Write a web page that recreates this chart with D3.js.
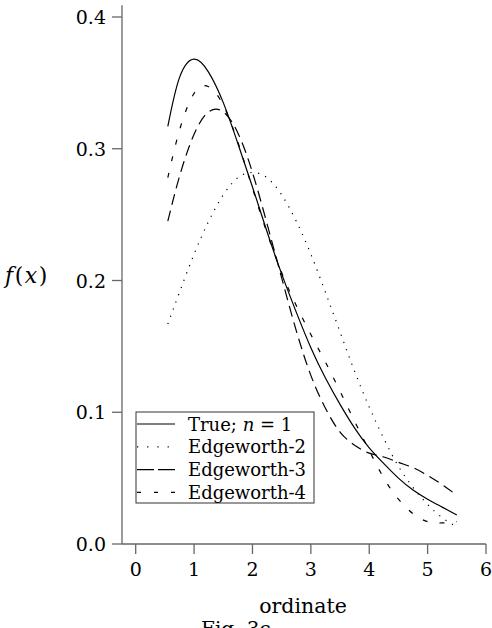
<!DOCTYPE html>
<html>
<head>
<meta charset="utf-8">
<script src="https://cdn.jsdelivr.net/npm/d3@7"></script>
<style>
  body { margin: 0; background: #fff; }
</style>
</head>
<body>
<svg id="main-svg"></svg>
<script>
// --- data ---
const xs = [0.55, 0.75, 1.0, 1.25, 1.5, 1.75, 2.0, 2.25, 2.5, 2.75, 3.0,
            3.25, 3.5, 3.75, 4.0, 4.25, 4.5, 4.75, 5.0, 5.25, 5.5];
const trueN1 = [0.317, 0.354, 0.368, 0.358, 0.335, 0.304, 0.271, 0.237, 0.205, 0.176, 0.149,
                0.126, 0.106, 0.088, 0.073, 0.061, 0.050, 0.041, 0.034, 0.028, 0.022];
const edge2 = [0.167, 0.191, 0.220, 0.245, 0.265, 0.278, 0.282, 0.278, 0.265, 0.245, 0.220,
               0.191, 0.161, 0.131, 0.104, 0.080, 0.059, 0.043, 0.030, 0.020, 0.013];
const edge3 = [0.245, 0.279, 0.311, 0.328, 0.328, 0.312, 0.282, 0.243, 0.202, 0.162, 0.128,
               0.103, 0.085, 0.075, 0.069, 0.066, 0.062, 0.058, 0.052, 0.045, 0.037];
const edge4 = [0.278, 0.314, 0.342, 0.347, 0.333, 0.305, 0.270, 0.236, 0.206, 0.181, 0.159,
               0.138, 0.116, 0.093, 0.071, 0.050, 0.034, 0.023, 0.017, 0.016, 0.017];
const xTicks = [0, 1, 2, 3, 4, 5, 6];
const yTicks = [0.0, 0.1, 0.2, 0.3, 0.4];
const legendLabels = ["True; n = 1", "Edgeworth-2", "Edgeworth-3", "Edgeworth-4"];

// --- setup ---
const width = 492, height = 628;
const serif = "'DejaVu Serif', 'Liberation Serif', serif";
const svg = d3.select("#main-svg").attr("width", width).attr("height", height)
  .attr("font-family", serif);

const x = d3.scaleLinear().domain([0, 6]).range([135.7, 486]);
const y = d3.scaleLinear().domain([0, 0.4]).range([544, 17]);
const axisColor = "#666";
const fontSize = 19;

// axes lines
svg.append("line").attr("x1", 122).attr("x2", 122)
   .attr("y1", y(0.409)).attr("y2", y(0))
   .attr("stroke", axisColor).attr("stroke-width", 1.3);
svg.append("line").attr("x1", 122).attr("x2", x(6))
   .attr("y1", y(0)).attr("y2", y(0))
   .attr("stroke", axisColor).attr("stroke-width", 1.3);

// y ticks
const yg = svg.append("g");
yg.selectAll("line").data(yTicks).enter().append("line")
  .attr("x1", 112).attr("x2", 122)
  .attr("y1", d => y(d)).attr("y2", d => y(d))
  .attr("stroke", axisColor).attr("stroke-width", 1.3);
yg.selectAll("text").data(yTicks).enter().append("text")
  .attr("x", 106).attr("y", d => y(d) + 7)
  .attr("text-anchor", "end").attr("font-size", fontSize)
  .text(d => d.toFixed(1));

// x ticks
const xg = svg.append("g");
xg.selectAll("line").data(xTicks).enter().append("line")
  .attr("x1", d => x(d)).attr("x2", d => x(d))
  .attr("y1", y(0)).attr("y2", y(0) + 10)
  .attr("stroke", axisColor).attr("stroke-width", 1.3);
xg.selectAll("text").data(xTicks).enter().append("text")
  .attr("x", d => x(d)).attr("y", 576)
  .attr("text-anchor", "middle").attr("font-size", fontSize)
  .text(d => d);

// axis titles
svg.append("text").attr("x", 303).attr("y", 613)
   .attr("text-anchor", "middle").attr("font-size", 20.5).text("ordinate");
svg.append("text").attr("x", 201).attr("y", 636)
   .attr("font-size", 20).text("Fig. 3c");
const fx = svg.append("text").attr("x", 5).attr("y", 283).attr("font-size", 22)
  .attr("letter-spacing", 1.5);
fx.append("tspan").attr("font-style", "italic").text("f");
fx.append("tspan").text("(");
fx.append("tspan").attr("font-style", "italic").text("x");
fx.append("tspan").text(")");

// --- curves ---
const series = [
  {values: trueN1, dash: null},
  {values: edge2, dash: "1.2,6.5"},
  {values: edge3, dash: "11,6"},
  {values: edge4, dash: "5,12"}
];
const line = d3.line()
  .x((d, i) => x(xs[i]))
  .y(d => y(d))
  .curve(d3.curveNatural);

svg.append("g").selectAll("path")
  .data(series).enter().append("path")
  .attr("d", d => line(d.values))
  .attr("fill", "none")
  .attr("stroke", "#000")
  .attr("stroke-width", 1.2)
  .attr("stroke-dasharray", d => d.dash);

// --- legend ---
const lg = svg.append("g").attr("transform", "translate(136, 412)");
lg.append("rect").attr("width", 178).attr("height", 91)
  .attr("fill", "#fff").attr("stroke", "#333").attr("stroke-width", 1);
const legendDash = [null, "1.2,9", "17,4", "4,13"];
const rows = lg.selectAll("g.row").data(legendLabels).enter().append("g")
  .attr("transform", (d, i) => `translate(0, ${12 + i * 22.8})`);
rows.append("line").attr("x1", 1).attr("x2", 39)
  .attr("stroke", "#000").attr("stroke-width", 1.2)
  .attr("stroke-dasharray", (d, i) => legendDash[i]);
rows.each(function(d, i) {
  const t = d3.select(this).append("text").attr("x", 52).attr("y", 6.5)
    .attr("font-size", 18);
  if (i === 0) {
    t.append("tspan").text("True; ");
    t.append("tspan").attr("font-style", "italic").text("n");
    t.append("tspan").text(" = 1");
  } else {
    t.text(d);
  }
});
</script>
</body>
</html>
